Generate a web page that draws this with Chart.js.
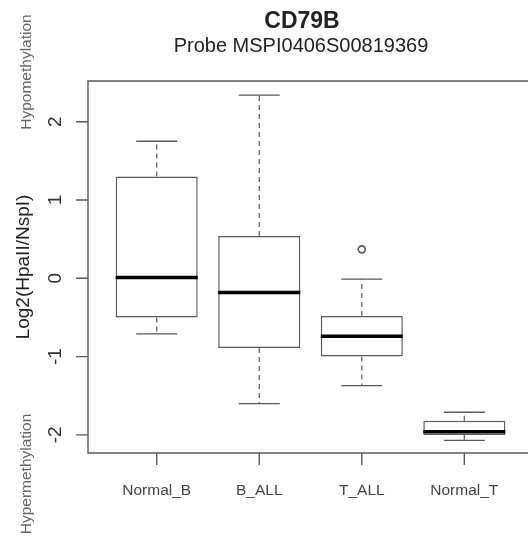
<!DOCTYPE html>
<html>
<head>
<meta charset="utf-8">
<script src="https://cdn.jsdelivr.net/npm/chart.js@4.4.1/dist/chart.umd.min.js"></script>
<style>
  body { margin: 0; background: #fff; }
  #wrap { width: 528px; height: 546px; }
</style>
</head>
<body>
<div id="wrap"><canvas id="box" width="528" height="546"></canvas></div>
<script>
// values
var groups = ['Normal_B', 'B_ALL', 'T_ALL', 'Normal_T'];
var whiskerLow = [-0.71, -1.60, -1.37, -2.07];
var q1 = [-0.50, -0.89, -1.00, -2.00];
var median = [0.01, -0.18, -0.74, -1.96];
var q3 = [1.30, 0.54, -0.48, -1.82];
var whiskerHigh = [1.75, 2.34, -0.01, -1.71];
var outliers = [[], [], [0.37], []];
var yTicks = [-2, -1, 0, 1, 2];
var xTicks = [1, 2, 3, 4];

var FONT = '"Liberation Sans", Arial, sans-serif';

var boxData = groups.map(function(g, i) {
  return { x: i + 1, y: [q1[i], q3[i]] };
});

var whiskerData = [];
var capData = [];
var medianData = [];
var outlierData = [];
groups.forEach(function(g, i) {
  var x = i + 1;
  whiskerData.push({x: x, y: q3[i]}, {x: x, y: whiskerHigh[i]}, {x: x, y: null});
  whiskerData.push({x: x, y: q1[i]}, {x: x, y: whiskerLow[i]}, {x: x, y: null});
  capData.push({x: x - 0.2, y: whiskerHigh[i]}, {x: x + 0.2, y: whiskerHigh[i]}, {x: x + 0.2, y: null});
  capData.push({x: x - 0.2, y: whiskerLow[i]}, {x: x + 0.2, y: whiskerLow[i]}, {x: x + 0.2, y: null});
  medianData.push({x: x - 0.4, y: median[i]}, {x: x + 0.4, y: median[i]}, {x: x + 0.4, y: null});
  outliers[i].forEach(function(v) { outlierData.push({x: x, y: v}); });
});

// frame, ticks and all the R-style text
var decorations = {
  id: 'decorations',
  afterDraw: function(chart) {
    var ctx = chart.ctx;
    var a = chart.chartArea;
    var xs = chart.scales.x, ys = chart.scales.y;
    ctx.save();
    ctx.strokeStyle = '#5a5a5a';
    ctx.lineWidth = 1.4;
    ctx.beginPath();
    ctx.moveTo(a.right + 2, a.top);
    ctx.lineTo(a.left, a.top);
    ctx.lineTo(a.left, a.bottom);
    ctx.lineTo(a.right + 2, a.bottom);
    yTicks.forEach(function(v) {
      var py = ys.getPixelForValue(v);
      ctx.moveTo(a.left - 12, py);
      ctx.lineTo(a.left, py);
    });
    xTicks.forEach(function(v) {
      var px = xs.getPixelForValue(v);
      ctx.moveTo(px, a.bottom);
      ctx.lineTo(px, a.bottom + 12);
    });
    ctx.stroke();

    // y tick labels, rotated as in R
    ctx.fillStyle = '#333';
    ctx.font = '19px ' + FONT;
    ctx.textAlign = 'center';
    ctx.textBaseline = 'alphabetic';
    yTicks.forEach(function(v) {
      var py = ys.getPixelForValue(v);
      ctx.save();
      ctx.translate(61, py);
      ctx.rotate(-Math.PI / 2);
      ctx.fillText(String(v), 0, 0);
      ctx.restore();
    });

    // x tick labels
    ctx.fillStyle = '#444';
    ctx.font = '15.5px ' + FONT;
    xTicks.forEach(function(v, i) {
      ctx.fillText(groups[i], xs.getPixelForValue(v), 495);
    });

    // y axis title
    ctx.fillStyle = '#222';
    ctx.font = '19px ' + FONT;
    ctx.save();
    ctx.translate(28.5, 267);
    ctx.rotate(-Math.PI / 2);
    ctx.fillText('Log2(HpaII/NspI)', 0, 0);
    ctx.restore();

    // side notes
    ctx.fillStyle = '#666';
    ctx.font = '15.5px ' + FONT;
    ctx.save();
    ctx.translate(31, 72);
    ctx.rotate(-Math.PI / 2);
    ctx.fillText('Hypomethylation', 0, 0);
    ctx.restore();
    ctx.save();
    ctx.translate(31, 474);
    ctx.rotate(-Math.PI / 2);
    ctx.fillText('Hypermethylation', 0, 0);
    ctx.restore();

    // titles
    ctx.fillStyle = '#222';
    ctx.font = 'bold 23px ' + FONT;
    ctx.fillText('CD79B', 302, 28);
    ctx.font = '20px ' + FONT;
    ctx.fillText('Probe MSPI0406S00819369', 301, 52);
    ctx.restore();
  }
};

var chart = new Chart(document.getElementById('box').getContext('2d'), {
  type: 'bar',
  data: {
    datasets: [
      {
        type: 'bar',
        data: boxData,
        backgroundColor: '#fff',
        borderColor: '#5a5a5a',
        borderWidth: 1.5,
        borderSkipped: false,
        barPercentage: 0.8,
        categoryPercentage: 1,
        order: 3
      },
      {
        type: 'line',
        data: whiskerData,
        borderColor: '#666',
        borderWidth: 1.3,
        borderDash: [5, 4],
        pointRadius: 0,
        spanGaps: false,
        order: 2
      },
      {
        type: 'line',
        data: capData,
        borderColor: '#5a5a5a',
        borderWidth: 1.4,
        pointRadius: 0,
        spanGaps: false,
        order: 2
      },
      {
        type: 'line',
        data: medianData,
        borderColor: '#000',
        borderWidth: 3.5,
        borderCapStyle: 'butt',
        pointRadius: 0,
        spanGaps: false,
        order: 0
      },
      {
        type: 'scatter',
        data: outlierData,
        pointRadius: 3.5,
        pointBorderWidth: 1.6,
        pointBorderColor: '#555',
        pointBackgroundColor: '#fff',
        order: 0
      }
    ]
  },
  options: {
    responsive: false,
    animation: false,
    layout: { autoPadding: false, padding: { left: 88, top: 81, right: 0, bottom: 93 } },
    plugins: { legend: { display: false }, tooltip: { enabled: false }, title: { display: false } },
    scales: {
      x: {
        type: 'linear',
        display: false,
        offset: false,
        min: 0.33,
        max: 4.621,
        afterBuildTicks: function(s) { s.ticks = xTicks.map(function(v) { return {value: v}; }); }
      },
      y: {
        type: 'linear',
        display: false,
        min: -2.231,
        max: 2.52
      }
    }
  },
  plugins: [decorations]
});
</script>
</body>
</html>
